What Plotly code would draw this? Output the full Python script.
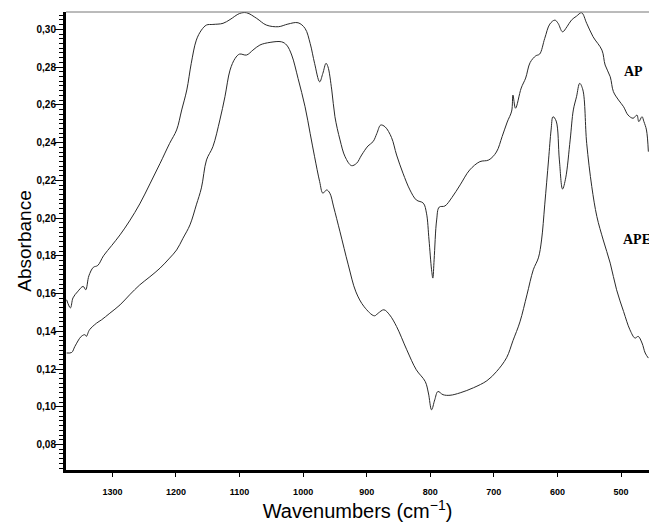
import plotly.graph_objects as go

# ---- data ----
ap_wn = [1372, 1366, 1362, 1355, 1346, 1342, 1337, 1330, 1323, 1314, 1301, 1288, 1273, 1257,
         1241, 1225, 1210, 1199, 1191, 1183, 1176, 1168, 1160, 1152, 1142, 1126, 1115, 1100,
         1089, 1073, 1058, 1039, 1024, 1008, 997, 989, 982, 974, 969, 964, 961, 955, 950, 942,
         934, 924, 916, 908, 898, 890, 884, 878, 871, 861, 853, 843, 832, 822, 811, 806, 802,
         798, 796, 794, 790, 786, 777, 766, 753, 738, 722, 708, 696, 687, 679, 672, 670, 666,
         657, 650, 643, 634, 628, 620, 612, 604, 599, 592, 585, 578, 570, 562, 554, 544, 530,
         525, 517, 512, 504, 496, 489, 481, 475, 472, 467, 464, 460, 457]
ap_abs = [0.1567, 0.1524, 0.1577, 0.1609, 0.1638, 0.1620, 0.1694, 0.1739, 0.1749, 0.1800,
          0.1855, 0.1911, 0.1985, 0.2075, 0.2181, 0.2290, 0.2396, 0.2467, 0.2573, 0.2679,
          0.2820, 0.2943, 0.2996, 0.3023, 0.3026, 0.3032, 0.3052, 0.3084, 0.3088, 0.3058,
          0.3023, 0.3014, 0.3028, 0.3035, 0.3005, 0.2926, 0.2820, 0.2722, 0.2767, 0.2820,
          0.2802, 0.2679, 0.2537, 0.2414, 0.2325, 0.2278, 0.2290, 0.2334, 0.2382, 0.2405,
          0.2449, 0.2493, 0.2483, 0.2427, 0.2334, 0.2238, 0.2149, 0.2096, 0.2079, 0.2026,
          0.1884, 0.1726, 0.1682, 0.1779, 0.1990, 0.2058, 0.2064, 0.2109, 0.2176, 0.2255,
          0.2299, 0.2308, 0.2350, 0.2432, 0.2509, 0.2567, 0.2652, 0.2582, 0.2689, 0.2742,
          0.2824, 0.2860, 0.2869, 0.2952, 0.3028, 0.3049, 0.3032, 0.2987, 0.3014, 0.3049,
          0.3070, 0.3088, 0.3032, 0.2961, 0.2890, 0.2811, 0.2749, 0.2670, 0.2626, 0.2590,
          0.2546, 0.2529, 0.2546, 0.2511, 0.2537, 0.2511, 0.2467, 0.2352]

ape_wn = [1372, 1364, 1359, 1349, 1343, 1341, 1336, 1325, 1317, 1304, 1288, 1273, 1257, 1241,
          1225, 1210, 1199, 1189, 1178, 1168, 1160, 1152, 1142, 1131, 1123, 1115, 1107, 1100,
          1089, 1079, 1068, 1052, 1034, 1026, 1018, 1008, 997, 989, 982, 974, 969, 963, 958,
          952, 942, 929, 917, 904, 888, 882, 873, 864, 853, 837, 822, 808, 803, 798, 793, 788,
          780, 769, 753, 732, 711, 696, 680, 670, 659, 648, 638, 630, 625, 620, 614, 610, 607,
          602, 597, 592, 587, 580, 575, 570, 565, 560, 554, 546, 538, 528, 517, 507, 496, 486,
          478, 473, 467, 462, 457]
ape_abs = [0.1285, 0.1288, 0.1320, 0.1373, 0.1382, 0.1373, 0.1408, 0.1443, 0.1461, 0.1496,
           0.1540, 0.1593, 0.1646, 0.1689, 0.1735, 0.1788, 0.1831, 0.1893, 0.1964, 0.2070,
           0.2160, 0.2308, 0.2378, 0.2520, 0.2643, 0.2784, 0.2846, 0.2869, 0.2864, 0.2890,
           0.2917, 0.2931, 0.2934, 0.2917, 0.2864, 0.2740, 0.2590, 0.2449, 0.2325, 0.2193,
           0.2132, 0.2149, 0.2132, 0.2059, 0.1927, 0.1752, 0.1609, 0.1530, 0.1482, 0.1496,
           0.1514, 0.1487, 0.1425, 0.1302, 0.1196, 0.1134, 0.1073, 0.0984, 0.1037, 0.1081,
           0.1064, 0.1061, 0.1074, 0.1101, 0.1138, 0.1186, 0.1260, 0.1350, 0.1450, 0.1593,
           0.1726, 0.1789, 0.1884, 0.2070, 0.2308, 0.2467, 0.2537, 0.2514, 0.2308, 0.2154,
           0.2213, 0.2414, 0.2573, 0.2643, 0.2714, 0.2679, 0.2396, 0.2167, 0.2008, 0.1884,
           0.1761, 0.1620, 0.1505, 0.1408, 0.1364, 0.1373, 0.1338, 0.1285, 0.1258]

series_labels = ["AP", "APE"]
x_range = [1373, 456]
y_range = [0.0665, 0.3092]

fig = go.Figure()
fig.add_trace(go.Scatter(x=ap_wn, y=ap_abs, mode="lines", name=series_labels[0],
                         line=dict(color="#2a2a2a", width=1), line_shape="spline"))
fig.add_trace(go.Scatter(x=ape_wn, y=ape_abs, mode="lines", name=series_labels[1],
                         line=dict(color="#2a2a2a", width=1), line_shape="spline"))

fig.add_annotation(x=499, y=0.2779, xref="x", yref="y", text="<b>AP</b>", showarrow=False,
                   xanchor="left", yanchor="middle",
                   font=dict(family="Liberation Serif", size=14, color="black"))
fig.add_annotation(x=500, y=0.1884, xref="x", yref="y", text="<b>APE</b>", showarrow=False,
                   xanchor="left", yanchor="middle",
                   font=dict(family="Liberation Serif", size=14, color="black"))

fig.add_shape(type="line", xref="paper", yref="paper", x0=0, x1=1, y0=1, y1=1,
              line=dict(color="#777777", width=1))

fig.update_layout(
    width=649, height=523,
    margin=dict(l=66, r=0, t=12, b=53),
    paper_bgcolor="white", plot_bgcolor="white",
    showlegend=False,
    separators=", ",
    font=dict(family="Liberation Sans", color="black"),
)
fig.update_xaxes(
    range=x_range, showgrid=False, zeroline=False,
    showline=True, linecolor="black", linewidth=3,
    ticks="outside", ticklen=4, tickwidth=1, tickcolor="black",
    dtick=100, tick0=0,
    tickfont=dict(family="Liberation Sans", size=9, weight="bold"),
    ticklabelstandoff=7,
    title=dict(text="Wavenumbers (cm<sup>−1</sup>)", font=dict(size=20), standoff=1),
)
fig.update_yaxes(
    range=y_range, showgrid=False, zeroline=False,
    showline=True, linecolor="black", linewidth=3,
    ticks="outside", ticklen=8, tickwidth=1, tickcolor="black",
    dtick=0.02, tick0=0, tickformat=".2f",
    minor=dict(dtick=0.0025, ticks="outside", ticklen=4, tickcolor="black", tickwidth=1),
    tickfont=dict(family="Liberation Sans", size=10, weight="bold"),
    ticklabelstandoff=-3,
    title=dict(text="Absorbance", font=dict(size=19), standoff=0),
)

fig.write_html("out.html")
